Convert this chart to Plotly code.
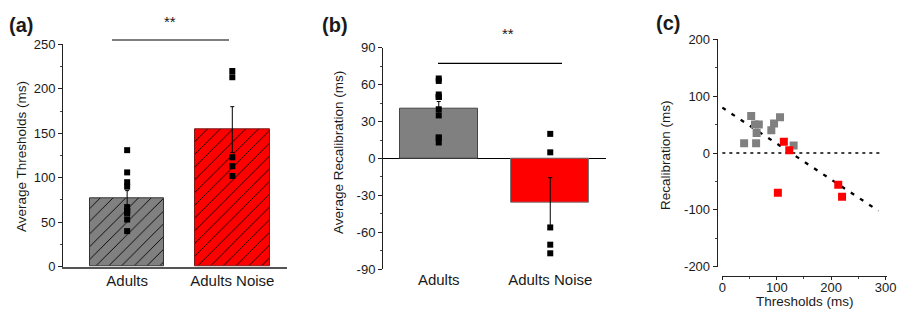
import numpy as np
import plotly.graph_objects as go

# ---------------- data ----------------
categories = ["Adults", "Adults Noise"]

# panel (a): individual thresholds (ms)
thr_adults = [131, 106, 95, 90, 67, 63, 62, 60, 53, 40]
thr_noise = [220, 213, 123, 113, 102]

# panel (b): individual recalibration (ms), same order as thresholds
rec_adults = [13, 63, 52, 40, 50, 17, 35, 50, 65, 17]
rec_noise = [-77, -56, 5, 20, -70]

# panel (c): thresholds vs recalibration pairs
sc_thr_adults = [40, 53, 60, 63, 62, 67, 90, 95, 106, 131]
sc_rec_adults = [17, 65, 50, 35, 17, 50, 40, 52, 63, 13]
sc_thr_noise = [113, 123, 102, 213, 220]
sc_rec_noise = [20, 5, -70, -56, -77]

fit_x_range = [0, 287]
zero_line_x = [0, 290]

a_ticks = [0, 50, 100, 150, 200, 250]
b_ticks = [-90, -60, -30, 0, 30, 60, 90]
c_yticks = [-200, -100, 0, 100, 200]
c_xticks = [0, 100, 200, 300]

bar_colors = ["#808080", "#ff0000"]
bar_edges_a = ["#333333", "#7a1a1a"]
bar_edges_b = ["#444444", "#777777"]

# ---------------- helpers ----------------
W, H = 899, 310
FONT = "Liberation Sans, Arial, sans-serif"
TXT = "#1a1a1a"


def fx(px):
    return px / W


def fy(py):
    return 1 - py / H


def mean_sem(v):
    v = np.asarray(v, dtype=float)
    return v.mean(), v.std(ddof=1) / np.sqrt(len(v))


thr_groups = [thr_adults, thr_noise]
rec_groups = [rec_adults, rec_noise]

all_x = np.array(sc_thr_adults + sc_thr_noise, dtype=float)
all_y = np.array(sc_rec_adults + sc_rec_noise, dtype=float)
slope, intercept = np.polyfit(all_x, all_y, 1)
fit_x = np.array(fit_x_range, dtype=float)
fit_y = slope * fit_x + intercept

fig = go.Figure()

# ---------------- panel (a) ----------------
for cat, vals, col, edge in zip(categories, thr_groups, bar_colors, bar_edges_a):
    m, s = mean_sem(vals)
    fig.add_trace(go.Bar(
        x=[cat], y=[m], width=0.71,
        marker=dict(color=col, line=dict(color=edge, width=1),
                    pattern=dict(shape="/", fillmode="overlay", fgcolor="#000000",
                                 fgopacity=1, size=9, solidity=0.1)),
        error_y=dict(type="data", array=[s], color="black", thickness=1, width=2),
        xaxis="x", yaxis="y", showlegend=False))
for cat, vals in zip(categories, thr_groups):
    fig.add_trace(go.Scatter(
        x=[cat] * len(vals), y=vals, mode="markers",
        marker=dict(symbol="square", size=6, color="black"),
        xaxis="x", yaxis="y", showlegend=False, cliponaxis=False))

# ---------------- panel (b) ----------------
for cat, vals, col, edge in zip(categories, rec_groups, bar_colors, bar_edges_b):
    m, s = mean_sem(vals)
    fig.add_trace(go.Bar(
        x=[cat], y=[m], width=0.70,
        marker=dict(color=col, line=dict(color=edge, width=1)),
        error_y=dict(type="data", array=[s], color="black", thickness=1, width=2),
        xaxis="x2", yaxis="y2", showlegend=False))
for cat, vals in zip(categories, rec_groups):
    fig.add_trace(go.Scatter(
        x=[cat] * len(vals), y=vals, mode="markers",
        marker=dict(symbol="square", size=6, color="black"),
        xaxis="x2", yaxis="y2", showlegend=False, cliponaxis=False))

# ---------------- panel (c) ----------------
fig.add_trace(go.Scatter(
    x=zero_line_x, y=[0, 0], mode="lines",
    line=dict(color="black", width=1.3, dash="3px,4px"),
    xaxis="x3", yaxis="y3", showlegend=False, hoverinfo="skip"))
fig.add_trace(go.Scatter(
    x=fit_x, y=fit_y, mode="lines",
    line=dict(color="black", width=2.3, dash="4px,7px"),
    xaxis="x3", yaxis="y3", showlegend=False, hoverinfo="skip"))
fig.add_trace(go.Scatter(
    x=sc_thr_adults, y=sc_rec_adults, mode="markers",
    marker=dict(symbol="square", size=8, color="#808080"),
    xaxis="x3", yaxis="y3", showlegend=False))
fig.add_trace(go.Scatter(
    x=sc_thr_noise, y=sc_rec_noise, mode="markers",
    marker=dict(symbol="square", size=8, color="#ff0000"),
    xaxis="x3", yaxis="y3", showlegend=False))

tickfont = dict(family=FONT, size=13, color=TXT)
catfont = dict(family=FONT, size=15, color=TXT)

common_y = dict(showgrid=False, zeroline=False, showline=True, linecolor="#222222",
                linewidth=1, ticks="outside", ticklen=4, tickcolor="#222222",
                tickfont=tickfont, automargin=False)

fig.update_layout(
    width=W, height=H, margin=dict(l=0, r=0, t=0, b=0, autoexpand=False),
    paper_bgcolor="white", plot_bgcolor="white",
    font=dict(family=FONT, color=TXT),
    bargap=0, barmode="overlay",
    # panel a
    xaxis=dict(domain=[fx(63), fx(287)], anchor="y", range=[-0.61, 1.52],
               showgrid=False, showline=True, linecolor="#555555", linewidth=1.5,
               ticks="", tickfont=catfont, categoryorder="array", categoryarray=categories,
               automargin=False),
    yaxis=dict(domain=[fy(266.7), fy(44.3)], anchor="x", range=[0, 250],
               tickvals=a_ticks, ticktext=[str(v) for v in a_ticks],
               minor=dict(ticks="outside", ticklen=2, tickcolor="#444444", dtick=25),
               **common_y),
    # panel b
    xaxis2=dict(domain=[fx(383), fx(606)], anchor="y2", range=[-0.5, 1.5],
                showgrid=False, showline=False, ticks="", tickfont=catfont,
                categoryorder="array", categoryarray=categories, automargin=False),
    yaxis2=dict(domain=[fy(269.3), fy(47.7)], anchor="x2", range=[-90, 90],
                tickvals=b_ticks, ticktext=[str(v) for v in b_ticks],
                minor=dict(ticks="outside", ticklen=2, tickcolor="#444444", dtick=15),
                **{**common_y, "zeroline": True, "zerolinecolor": "black", "zerolinewidth": 1.2}),
    # panel c
    xaxis3=dict(domain=[fx(721.8), fx(886.7)], anchor="free", position=fy(276),
                range=[-1, 302], showgrid=False, zeroline=False, showline=True,
                linecolor="#222222", linewidth=1, ticks="outside", ticklen=3,
                tickcolor="#222222", tickvals=c_xticks, ticktext=[str(v) for v in c_xticks],
                tickfont=tickfont, ticklabelstandoff=-4, automargin=False,
                minor=dict(ticks="outside", ticklen=2, tickcolor="#444444", dtick=50)),
    yaxis3=dict(domain=[fy(266.7), fy(39.3)], anchor="free", position=fx(716.7),
                range=[-200, 200], tickvals=c_yticks, ticktext=[str(v) for v in c_yticks],
                minor=dict(ticks="outside", ticklen=2, tickcolor="#444444", dtick=50),
                **common_y),
)

# significance lines
fig.add_shape(type="line", xref="paper", yref="paper",
              x0=fx(112), x1=fx(229), y0=fy(40), y1=fy(40), line=dict(color="black", width=1.2))
fig.add_shape(type="line", xref="paper", yref="paper",
              x0=fx(438), x1=fx(562), y0=fy(63.3), y1=fy(63.3), line=dict(color="black", width=1.2))

ann = []
ann.append(dict(text="**", x=fx(170), y=fy(22), font=dict(family=FONT, size=15, color=TXT)))
ann.append(dict(text="**", x=fx(508), y=fy(33), font=dict(family=FONT, size=15, color=TXT)))
ann.append(dict(text="<b>(a)</b>", x=fx(21), y=fy(25), font=dict(family=FONT, size=20, color=TXT)))
ann.append(dict(text="<b>(b)</b>", x=fx(335), y=fy(25), font=dict(family=FONT, size=20, color=TXT)))
ann.append(dict(text="<b>(c)</b>", x=fx(668), y=fy(23), font=dict(family=FONT, size=20, color=TXT)))
ann.append(dict(text="Average Thresholds (ms)", x=fx(21), y=fy(157), textangle=-90,
                font=dict(family=FONT, size=13.5, color=TXT)))
ann.append(dict(text="Average Recalibration (ms)", x=fx(338), y=fy(153), textangle=-90,
                font=dict(family=FONT, size=13.5, color=TXT)))
ann.append(dict(text="Recalibration (ms)", x=fx(665), y=fy(155), textangle=-90,
                font=dict(family=FONT, size=13.5, color=TXT)))
ann.append(dict(text="Thresholds (ms)", x=fx(805), y=fy(301),
                font=dict(family=FONT, size=13.5, color=TXT)))
for a in ann:
    fig.add_annotation(xref="paper", yref="paper", showarrow=False,
                       xanchor="center", yanchor="middle", **a)

fig.write_html("out.html", config={"displayModeBar": False},
               post_script="document.body.style.margin='0';document.body.style.overflow='hidden';")
